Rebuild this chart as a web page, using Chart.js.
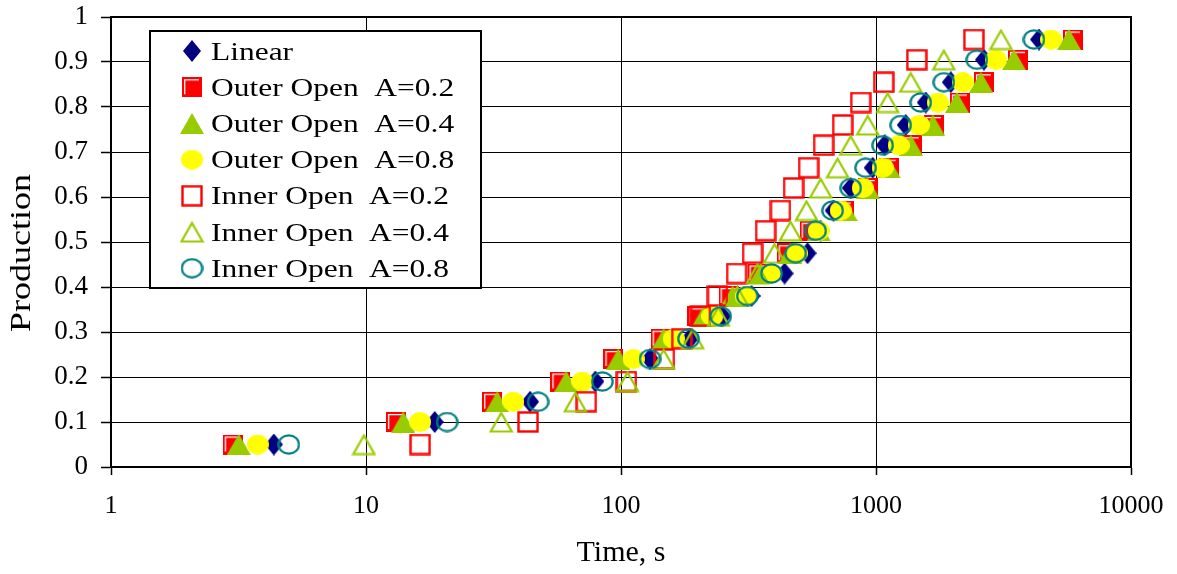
<!DOCTYPE html>
<html><head><meta charset="utf-8">
<script src="https://cdn.jsdelivr.net/npm/chart.js@4.4.0/dist/chart.umd.min.js"></script>
<style>html,body{margin:0;padding:0;background:#fff;}#wrap{position:relative;width:1177px;height:574px;}</style>
</head><body><div id="wrap"><canvas id="c" width="1177" height="574"></canvas></div>
<script>
// ---- data ----
const seriesNames = ['Linear', 'Outer Open  A=0.2', 'Outer Open  A=0.4', 'Outer Open  A=0.8', 'Inner Open  A=0.2', 'Inner Open  A=0.4', 'Inner Open  A=0.8'];
const production = [0.05, 0.10, 0.145, 0.19, 0.24, 0.285, 0.335, 0.38, 0.43, 0.475, 0.525, 0.57, 0.62, 0.665, 0.715, 0.76, 0.81, 0.855, 0.905, 0.95];
const timeLinear = [4.35, 18.6, 44.0, 79.3, 130, 186, 250, 325, 438, 539, 606, 682, 796, 970, 1082, 1308, 1567, 1965, 2649, 4355];
const timeOuter02 = [3.0, 13.1, 31.2, 57.8, 93.3, 143, 199, 264, 343, 446, 549, 747, 928, 1122, 1381, 1685, 2132, 2649, 3603, 5924];
const timeOuter04 = [3.17, 14.0, 32.7, 61.0, 97.6, 147, 211, 274, 353, 462, 596, 760, 928, 1122, 1369, 1670, 2075, 2578, 3474, 5713];
const timeOuter08 = [3.76, 16.3, 37.8, 70.5, 112, 161, 228, 308, 389, 488, 596, 727, 887, 1062, 1228, 1472, 1747, 2190, 2952, 4857];
const timeInner02 = [16.3, 43.2, 73.1, 105, 148, 173, 205, 239, 284, 328, 369, 422, 475, 544, 623, 740, 871, 1072, 1445, 2419];
const timeInner04 = [9.81, 33.9, 66.2, 106, 147, 191, 241, 286, 343, 400, 462, 534, 607, 707, 796, 928, 1111, 1369, 1845, 3090];
const timeInner08 = [4.98, 20.8, 47.3, 84.5, 130, 184, 246, 313, 389, 484, 580, 676, 796, 911, 1062, 1250, 1498, 1845, 2486, 4163];
const xTickValues = [1, 10, 100, 1000, 10000];
const xTickLabels = ['1', '10', '100', '1000', '10000'];
const yTickValues = [0, 0.1, 0.2, 0.3, 0.4, 0.5, 0.6, 0.7, 0.8, 0.9, 1];
const yTickLabels = ['0', '0.1', '0.2', '0.3', '0.4', '0.5', '0.6', '0.7', '0.8', '0.9', '1'];
const xTitle = 'Time, s';
const yTitle = 'Production';

// ---- marker glyphs ----
function mk(w, h, draw) { const c = document.createElement('canvas'); c.width = w; c.height = h; draw(c.getContext('2d'), w, h); return c; }
const NAVY = '#000080', RED = '#FF0000', GREEN = '#99CC00', YELLOW = '#FFFF00', TEAL = '#008080';
const mDiamond = mk(18, 22, (g) => { g.fillStyle = NAVY; g.beginPath(); g.moveTo(9, 0); g.lineTo(18, 11); g.lineTo(9, 22); g.lineTo(0, 11); g.closePath(); g.fill(); });
const mSquareF = mk(20, 20, (g) => { g.fillStyle = RED; g.fillRect(0, 0, 20, 20); g.strokeStyle = '#fff'; g.lineWidth = 1.3; g.beginPath(); g.moveTo(2.7, 17); g.lineTo(2.7, 2.7); g.lineTo(17, 2.7); g.stroke(); });
const mTriF = mk(24, 21, (g) => { g.fillStyle = GREEN; g.beginPath(); g.moveTo(12, 0); g.lineTo(24, 21); g.lineTo(0, 21); g.closePath(); g.fill(); });
const mCircF = mk(22, 20, (g) => { g.fillStyle = YELLOW; g.beginPath(); g.ellipse(11, 10, 11, 10, 0, 0, Math.PI * 2); g.fill(); });
const mSquareO = mk(22, 22, (g) => { g.strokeStyle = RED; g.lineWidth = 2.4; g.strokeRect(1.5, 1.5, 19, 19); });
const mTriO = mk(25, 22, (g) => { g.strokeStyle = GREEN; g.lineWidth = 2.2; g.lineJoin = 'miter'; g.beginPath(); g.moveTo(12.5, 2); g.lineTo(23, 20.5); g.lineTo(2, 20.5); g.closePath(); g.stroke(); });
const mCircO = mk(23, 21, (g) => { g.strokeStyle = TEAL; g.lineWidth = 2.2; g.beginPath(); g.ellipse(11.5, 10.5, 10.2, 9.2, 0, 0, Math.PI * 2); g.stroke(); });
const markers = [mDiamond, mSquareF, mTriF, mCircF, mSquareO, mTriO, mCircO];
const allTimes = [timeLinear, timeOuter02, timeOuter04, timeOuter08, timeInner02, timeInner04, timeInner08];

const datasets = allTimes.map((t, i) => ({
  label: seriesNames[i],
  data: t.map((x, k) => ({ x: x, y: production[k] })),
  pointStyle: markers[i],
  pointRadius: 10,
  pointHoverRadius: 10,
  showLine: false,
  order: 7 - i
}));

const FONT = 'Liberation Serif';

const frame = {
  id: 'frame',
  beforeDatasetsDraw(chart) {
    const { ctx, chartArea: a } = chart;
    ctx.save(); ctx.strokeStyle = '#000'; ctx.lineWidth = 2;
    ctx.strokeRect(a.left, a.top, a.right - a.left, a.bottom - a.top);
    ctx.restore();
  },
  afterDraw(chart) {
    const ctx = chart.ctx;
    ctx.save();
    ctx.fillStyle = '#000'; ctx.font = '30px "' + FONT + '"'; ctx.textAlign = 'center'; ctx.textBaseline = 'middle';
    ctx.translate(22, 253); ctx.rotate(-Math.PI / 2); ctx.scale(1.2, 1);
    ctx.fillText(yTitle, 0, 0);
    ctx.restore();
  }
};
const legendBox = {
  id: 'legendBox',
  afterDraw(chart) {
    const ctx = chart.ctx;
    ctx.save();
    ctx.fillStyle = '#fff'; ctx.fillRect(150, 31, 331, 257);
    ctx.strokeStyle = '#000'; ctx.lineWidth = 2; ctx.strokeRect(150, 31, 331, 257);
    ctx.fillStyle = '#000'; ctx.font = '26px "' + FONT + '"'; ctx.textBaseline = 'alphabetic'; ctx.textAlign = 'left';
    for (let i = 0; i < seriesNames.length; i++) {
      const y = 51 + i * 36.2;
      const m = markers[i];
      ctx.drawImage(m, 192 - m.width / 2, y - m.height / 2);
      ctx.save(); ctx.translate(211, y + 8.6); ctx.scale(1.21, 1); ctx.fillText(seriesNames[i], 0, 0); ctx.restore();
    }
    ctx.restore();
  }
};

new Chart(document.getElementById('c'), {
  type: 'scatter',
  data: { datasets },
  options: {
    responsive: false, animation: false, devicePixelRatio: 1,
    layout: { padding: { top: 17, right: 46, left: 0, bottom: 0 } },
    plugins: { legend: { display: false }, tooltip: { enabled: false } },
    scales: {
      x: {
        type: 'logarithmic', position: 'bottom', min: 1, max: 10000,
        afterBuildTicks: (s) => { s.ticks = xTickValues.map(v => ({ value: v })); },
        afterFit: (s) => { s.height = 107; s.paddingLeft = 0; s.paddingRight = 0; s.paddingTop = 0; s.paddingBottom = 0; },
        ticks: { autoSkip: false, maxRotation: 0, padding: 16, color: '#000', font: { family: FONT, size: 26 }, callback: (v, i) => xTickLabels[i] },
        grid: { color: '#000', lineWidth: 1, tickLength: 8, tickColor: '#000', tickWidth: 1.5 },
        border: { color: '#000', width: 2 },
        title: { display: true, text: xTitle, color: '#000', font: { family: FONT, size: 30 }, padding: { top: 0, bottom: 3 } }
      },
      y: {
        type: 'linear', min: 0, max: 1,
        afterBuildTicks: (s) => { s.ticks = yTickValues.map(v => ({ value: v })); },
        afterFit: (s) => { s.width = 111; s.paddingLeft = 0; s.paddingRight = 0; s.paddingTop = 0; s.paddingBottom = 0; },
        ticks: { padding: 13, color: '#000', font: { family: FONT, size: 27 }, callback: (v, i) => yTickLabels[i] },
        grid: { color: '#000', lineWidth: 1, tickLength: 10, tickColor: '#000', tickWidth: 1.5 },
        border: { color: '#000', width: 2 },
        title: { display: false, text: yTitle }
      }
    }
  },
  plugins: [frame, legendBox]
});
</script></body></html>
